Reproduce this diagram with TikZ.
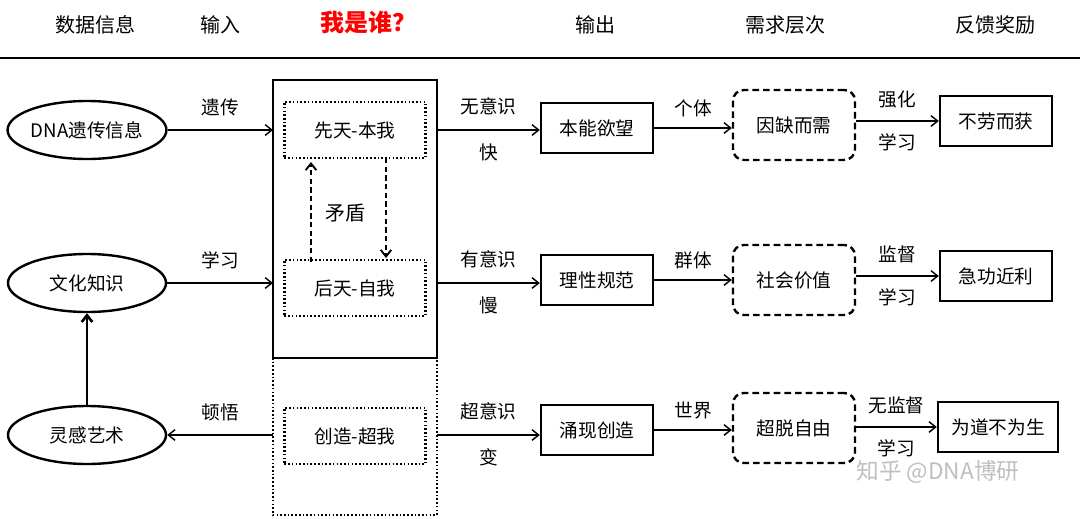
\documentclass[tikz,border=0pt]{standalone}
\usepackage{fontspec}
\setmainfont{Noto Sans CJK SC}
\usetikzlibrary{arrows.meta,shapes.geometric}
\begin{document}
\begin{tikzpicture}[x=0.75pt,y=-0.75pt,
  txt/.style={font=\fontsize{14}{16}\selectfont,inner sep=0pt},
  hd/.style={font=\fontsize{15}{17}\selectfont},
  ell/.style={draw,line width=1.8pt,ellipse,minimum width=118.5pt,minimum height=43.5pt,inner sep=0pt,font=\fontsize{14}{16}\selectfont},
  sb/.style={draw,line width=1.8pt,minimum width=84pt,minimum height=37.5pt,inner sep=0pt,font=\fontsize{14}{16}\selectfont},
  dots/.style={line width=1.8pt,dash pattern=on 1.2pt off 1.6pt},
  db/.style={draw,dots,minimum width=106pt,minimum height=42pt,inner sep=0pt,font=\fontsize{14}{16}\selectfont},
  rb/.style={draw,line width=1.8pt,dash pattern=on 5pt off 3pt,rounded corners=8pt,minimum width=91.5pt,minimum height=52.5pt,inner sep=0pt,font=\fontsize{14}{16}\selectfont},
  ar/.style={->,line width=1.1pt,>={Straight Barb[length=5pt,width=8pt]}}]
\useasboundingbox (0,0) rectangle (1080,518);
\fill[white] (0,0) rectangle (1080,518);
% header
\node[hd] (h1) at (95,25) {数据信息};
\node[hd] (h2) at (220,25) {输入};
\node[font=\fontsize{18}{20}\selectfont\bfseries,text=red] (h3) at (368,22) {我是谁？};
\node[hd] (h4) at (595,25) {输出};
\node[hd] (h5) at (785,25) {需求层次};
\node[hd] (h6) at (995,25) {反馈奖励};
\draw[line width=1.8pt] (0,58) -- (1080,58);
% ellipses
\node[ell] (e1) at (87,130) {DNA遗传信息};
\node[ell] (e2) at (87,283) {文化知识};
\node[ell] (e3) at (87,435) {灵感艺术};
% big boxes
\draw[line width=1.8pt] (273,80) rectangle (437,358);
\draw[dots] (273,358) -- (273,515) -- (437,515) -- (437,358);
\node[db] (d1) at (355,130) {先天-本我};
\node[db] (d2) at (355,288) {后天-自我};
\node[db] (d3) at (355,436) {创造-超我};
\coordinate (b1l) at (273,130); \coordinate (b1r) at (437,130);
\coordinate (b2l) at (273,283); \coordinate (b2r) at (437,283);
\coordinate (b3l) at (273,435); \coordinate (b3r) at (437,435);
\draw[ar] (e1.east) -- node[txt,above=10pt]{遗传} (b1l);
\draw[ar] (e2.east) -- node[txt,above=10pt]{学习} (b2l);
\draw[ar] (b3l) -- node[txt,above=10pt]{顿悟} (e3.east);
\draw[ar,line width=2pt] (e3.north) -- (e2.south);
\draw[ar,line width=1.4pt,dash pattern=on 4pt off 2.5pt] (311,262) -- (311,162);
\draw[ar,line width=1.4pt,dash pattern=on 4pt off 2.5pt] (386,158) -- (386,258);
\node[txt,font=\fontsize{15}{17}\selectfont] (md) at (345,213) {矛盾};
% outputs
\node[sb] (o1) at (597,128) {本能欲望};
\node[sb] (o2) at (597,280) {理性规范};
\node[sb] (o3) at (597,430) {涌现创造};
\draw[ar] (b1r) -- node[txt,above=11pt]{无意识} node[txt,below=10pt]{快} (o1.west|-b1r);
\draw[ar] (b2r) -- node[txt,above=11pt]{有意识} node[txt,below=10pt]{慢} (o2.west|-b2r);
\draw[ar] (b3r) -- node[txt,above=11pt]{超意识} node[txt,below=10pt]{变} (o3.west|-b3r);
% needs
\node[rb] (n1) at (794,125) {因缺而需};
\node[rb] (n2) at (794,280) {社会价值};
\node[rb] (n3) at (794,428) {超脱自由};
\draw[ar] (o1.east) -- node[txt,above=8pt]{个体} (n1.west|-o1.east);
\draw[ar] (o2.east) -- node[txt,above=8pt]{群体} (n2.west|-o2.east);
\draw[ar] (o3.east) -- node[txt,above=8pt]{世界} (n3.west|-o3.east);
% rewards
\node[sb] (r1) at (996,121) {不劳而获};
\node[sb] (r2) at (996,276) {急功近利};
\node[sb,minimum width=90pt] (r3) at (998,427) {为道不为生};
\draw[ar] (n1.east|-r1) -- node[txt,above=9pt]{强化} node[txt,below=9pt]{学习} (r1.west);
\draw[ar] (n2.east|-r2) -- node[txt,above=9pt]{监督} node[txt,below=9pt]{学习} (r2.west);
\draw[ar] (n3.east|-r3) -- node[txt,above=9pt]{无监督} node[txt,below=9pt]{学习} (r3.west);
% watermark
\node[font=\fontsize{17}{19}\selectfont,text=black!25] (wm) at (938,472) {知乎 @DNA博研};
\end{tikzpicture}
\end{document}
